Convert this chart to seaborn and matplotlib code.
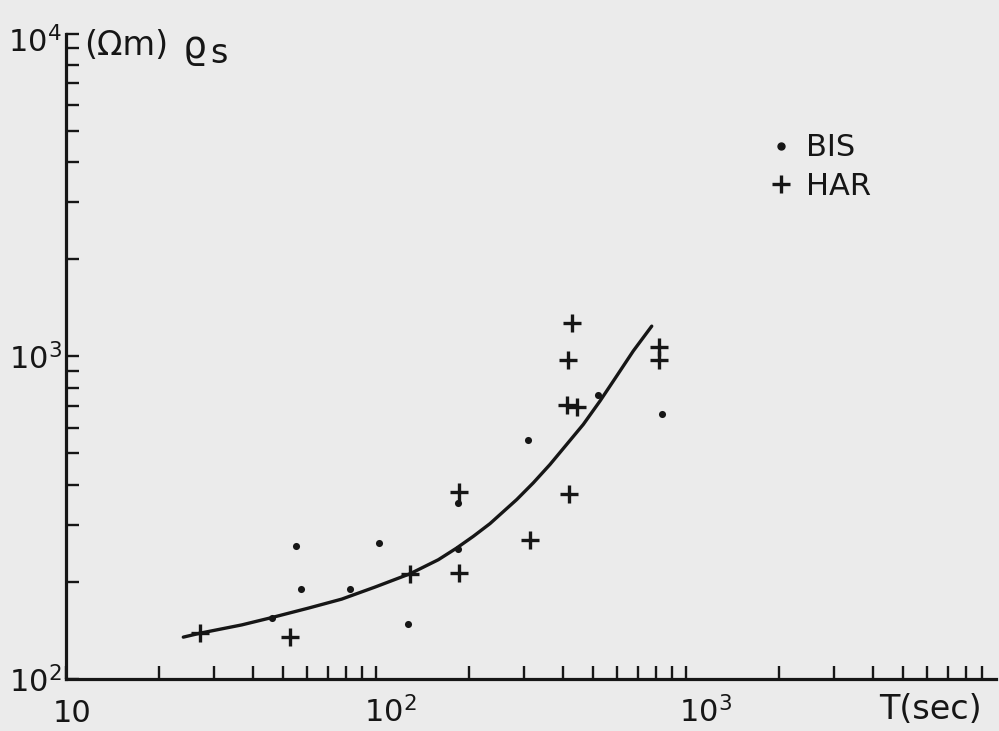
import matplotlib
matplotlib.use("Agg")
import matplotlib.pyplot as plt
import matplotlib.ticker as mticker
from matplotlib.lines import Line2D
from matplotlib.transforms import ScaledTranslation
import numpy as np
import pandas as pd
import seaborn as sns

# Period T (s) and apparent resistivity rho_s (Ohm m), station BIS
bis_T = [46.1, 55.1, 57.3, 82.4, 102.2, 126.9, 183.2, 183.5, 308.7, 521.4, 835.0]
bis_rho = [154.3, 257.6, 190.0, 190.3, 263.5, 147.9, 252.9, 351.3, 551.0, 758.0, 660.0]

# Station HAR
har_T = [27.1, 52.8, 128.3, 185.7, 185.3, 314.0, 419.4, 412.3, 446.0, 415.3, 427.9, 820.0, 820.0]
har_rho = [138.7, 135.3, 211.9, 213.0, 380.8, 269.2, 374.7, 704.4, 698.0, 971.8, 1272.0, 1072.0, 973.8]

# Mean curve through both data sets
curve_T = [23.9, 27.1, 36.9, 46.1, 60.5, 77.5, 99.3, 128.8, 158.9, 182.1, 206.0,
           233.2, 264.0, 284.4, 321.7, 364.1, 412.2, 466.4, 528.0, 597.6, 676.1, 775.3]
curve_rho = [134.8, 138.7, 147.1, 155.0, 165.8, 176.8, 192.7, 211.9, 234.2, 254.6, 276.7,
             303.0, 337.3, 359.7, 405.3, 461.9, 533.1, 615.0, 726.7, 868.5, 1038.6, 1239.6]

x_ticks = [10, 100, 1000]
x_tick_labels = ["10", r"$10^{2}$", r"$10^{3}$"]
y_ticks = [100, 1000, 10000]
y_tick_labels = [r"$10^{2}$", r"$10^{3}$", r"$10^{4}$"]

ink = "#161616"
paper = "#ebebeb"

sns.set_theme(style="ticks")
plt.rcParams["font.family"] = ["DejaVu Sans"]
plt.rcParams["mathtext.fontset"] = "dejavusans"

fig = plt.figure(figsize=(9.99, 7.31), dpi=100, facecolor=paper)
ax = fig.add_axes([66 / 999, 52 / 731, 930 / 999, 645.5 / 731])
ax.set_facecolor(paper)

bis = pd.DataFrame({"T": bis_T, "rho": bis_rho})
har = pd.DataFrame({"T": har_T, "rho": har_rho})
curve = pd.DataFrame({"T": curve_T, "rho": curve_rho})

sns.lineplot(data=curve, x="T", y="rho", ax=ax, color=ink, lw=2.4,
             sort=False, estimator=None, legend=False)
sns.scatterplot(data=bis, x="T", y="rho", ax=ax, marker="o", s=26,
                color=ink, edgecolor=ink, linewidth=0, legend=False, zorder=3)
sns.scatterplot(data=har, x="T", y="rho", ax=ax, marker="+", s=150,
                color=ink, linewidth=2.4, legend=False, zorder=3)

ax.set_xscale("log")
ax.set_yscale("log")
ax.set_xlim(10, 10000)
ax.set_ylim(100, 10000)
ax.set_xlabel("")
ax.set_ylabel("")

for side in ("top", "right"):
    ax.spines[side].set_visible(False)
for side in ("left", "bottom"):
    ax.spines[side].set_linewidth(2.3)
    ax.spines[side].set_color(ink)

ax.xaxis.set_major_locator(mticker.FixedLocator(x_ticks))
ax.xaxis.set_major_formatter(mticker.FixedFormatter(x_tick_labels))
ax.yaxis.set_major_locator(mticker.FixedLocator(y_ticks))
ax.yaxis.set_major_formatter(mticker.FixedFormatter(y_tick_labels))
sub = np.arange(2, 10)
ax.xaxis.set_minor_locator(mticker.LogLocator(base=10, subs=sub, numticks=20))
ax.yaxis.set_minor_locator(mticker.LogLocator(base=10, subs=sub, numticks=20))
ax.xaxis.set_minor_formatter(mticker.NullFormatter())
ax.yaxis.set_minor_formatter(mticker.NullFormatter())

ax.tick_params(which="both", direction="in", length=9.5, width=1.7, color=ink)
ax.tick_params(axis="x", which="major", labelsize=22, labelcolor=ink, pad=31)
ax.tick_params(axis="y", which="major", labelsize=22, labelcolor=ink, pad=3)

# hand-lettered labels sit a little right of their ticks
fig.canvas.draw()
x_shift = [6, 14, 20]
for lab, dx in zip(ax.get_xticklabels(), x_shift):
    lab.set_verticalalignment("baseline")
    lab.set_transform(lab.get_transform() + ScaledTranslation(dx / 100, 0, fig.dpi_scale_trans))
y_shift = [0, 0, -6]
for lab, dy in zip(ax.get_yticklabels(), y_shift):
    lab.set_transform(lab.get_transform() + ScaledTranslation(0, dy / 100, fig.dpi_scale_trans))

# axis titles: unit, then a large rho with its index
fig.text(84 / 999, 1 - 55 / 731, "(Ωm)", fontsize=24, color=ink, va="baseline", ha="left")
fig.text(183 / 999, 1 - 58 / 731, "ϱ", fontsize=27, color=ink, va="baseline", ha="left")
fig.text(210 / 999, 1 - 63 / 731, "s", fontsize=24, color=ink, va="baseline", ha="left")
fig.text(879 / 999, 1 - 719 / 731, "T(sec)", fontsize=24, color=ink, va="baseline", ha="left")

handles = [
    Line2D([], [], ls="none", marker="o", ms=5, color=ink, label="BIS"),
    Line2D([], [], ls="none", marker="+", ms=13, mew=2.4, color=ink, label="HAR"),
]
ax.legend(handles=handles, frameon=False, fontsize=22, loc="upper left",
          bbox_to_anchor=(760 / 999, 1 - 121 / 731), bbox_transform=fig.transFigure,
          handlelength=0.6, handletextpad=0.5, labelspacing=0.32, borderaxespad=0,
          labelcolor=ink)

fig.savefig("out.png", dpi=100, facecolor=paper)
